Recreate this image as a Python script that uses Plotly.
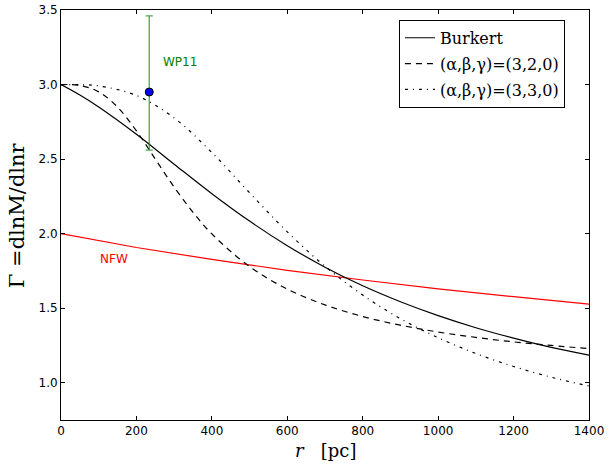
import plotly.graph_objects as go

# ---- data ----
r_burkert = [0, 50, 100, 200, 300, 400, 500, 600, 700, 800, 900, 1000, 1100, 1200, 1300, 1400]
g_burkert = [3.0, 2.930, 2.850, 2.667, 2.466, 2.268, 2.084, 1.919, 1.775, 1.650, 1.543, 1.450, 1.369, 1.299, 1.237, 1.185]

r_320 = [0, 50, 100, 150, 200, 250, 300, 350, 400, 500, 600, 700, 800, 900, 1000, 1100, 1200, 1300, 1400]
g_320 = [3.0, 2.994, 2.951, 2.849, 2.689, 2.500, 2.312, 2.143, 1.998, 1.779, 1.628, 1.522, 1.444, 1.386, 1.340, 1.304, 1.274, 1.250, 1.229]

r_330 = [0, 50, 100, 200, 300, 400, 500, 600, 700, 800, 900, 1000, 1100, 1200, 1300, 1400]
g_330 = [3.0, 2.999, 2.991, 2.927, 2.776, 2.544, 2.274, 2.012, 1.781, 1.588, 1.430, 1.302, 1.196, 1.109, 1.037, 0.978]

r_nfw = [0, 200, 400, 600, 800, 1000, 1200, 1400]
g_nfw = [2.0, 1.907, 1.827, 1.754, 1.689, 1.630, 1.577, 1.527]

wp11_r = [234]
wp11_g = [2.95]
wp11_err_plus = [0.51]
wp11_err_minus = [0.39]

x_ticks = [0, 200, 400, 600, 800, 1000, 1200, 1400]
y_ticks = [1.0, 1.5, 2.0, 2.5, 3.0, 3.5]

fig = go.Figure()

fig.add_trace(go.Scatter(x=r_nfw, y=g_nfw, mode="lines", line=dict(color="#ff0000", width=1.2),
                         showlegend=False, hoverinfo="skip"))
fig.add_trace(go.Scatter(x=r_burkert, y=g_burkert, mode="lines", name="Burkert", legendgroup="a",
                         line=dict(color="black", width=1.2, shape="spline")))
fig.add_trace(go.Scatter(x=r_320, y=g_320, mode="lines", name="(α,β,γ)=(3,2,0)", legendgroup="b",
                         line=dict(color="black", width=1.2, dash="6px,5px", shape="spline")))
fig.add_trace(go.Scatter(x=r_330, y=g_330, mode="lines", name="(α,β,γ)=(3,3,0)", legendgroup="c",
                         line=dict(color="black", width=1.2, dash="3px,5px,1px,5px", shape="spline")))
fig.add_trace(go.Scatter(x=wp11_r, y=wp11_g, mode="markers", showlegend=False,
                         marker=dict(color="#0000ff", size=8, line=dict(color="black", width=1)),
                         error_y=dict(type="data", symmetric=False, array=wp11_err_plus,
                                      arrayminus=wp11_err_minus, color="rgba(0,128,0,0.7)",
                                      thickness=1.3, width=3.5)))

fig.add_annotation(x=265, y=3.153, text="WP11", showarrow=False, xanchor="left", yanchor="middle",
                   font=dict(family="DejaVu Sans", size=12, color="#008000"))
fig.add_annotation(x=98, y=1.83, text="NFW", showarrow=False, xanchor="left", yanchor="middle",
                   font=dict(family="DejaVu Sans", size=12, color="#ff0000"))

# axis titles as annotations for exact placement
fig.add_annotation(xref="paper", yref="paper", x=-0.083, y=0.5, text="Γ =dlnM/dlnr",
                   textangle=-90, showarrow=False, xanchor="center", yanchor="middle",
                   font=dict(family="DejaVu Serif", size=21, color="black"))
fig.add_annotation(xref="paper", yref="paper", x=0.5, y=-0.075, text="<i>r</i>   [pc]",
                   showarrow=False, xanchor="center", yanchor="middle",
                   font=dict(family="DejaVu Serif", size=18, color="black"))

axis_common = dict(showline=True, linecolor="black", linewidth=1, mirror="ticks",
                   ticks="inside", ticklen=4, tickwidth=1, tickcolor="black",
                   showgrid=False, zeroline=False, automargin=False,
                   tickfont=dict(family="DejaVu Sans", size=12, color="black"))

fig.update_xaxes(range=[0, 1400], tickvals=x_ticks, ticktext=[str(v) for v in x_ticks], **axis_common)
fig.update_yaxes(range=[0.75, 3.5], tickvals=y_ticks, ticktext=["%.1f" % v for v in y_ticks], **axis_common)

fig.update_layout(
    width=610, height=466,
    margin=dict(l=61, r=21, t=10, b=46),
    plot_bgcolor="white", paper_bgcolor="white",
    legend=dict(x=0.64, y=0.976, xanchor="left", yanchor="top",
                bgcolor="white", bordercolor="black", borderwidth=1,
                font=dict(family="DejaVu Serif", size=16, color="black"),
                itemwidth=30, traceorder="grouped", tracegroupgap=2),
)

# remove the browser's default 8px body margin so the figure sits at the page origin
fig.write_html("out.html", config={"displayModeBar": False},
               post_script="document.body.style.margin='0px';")
